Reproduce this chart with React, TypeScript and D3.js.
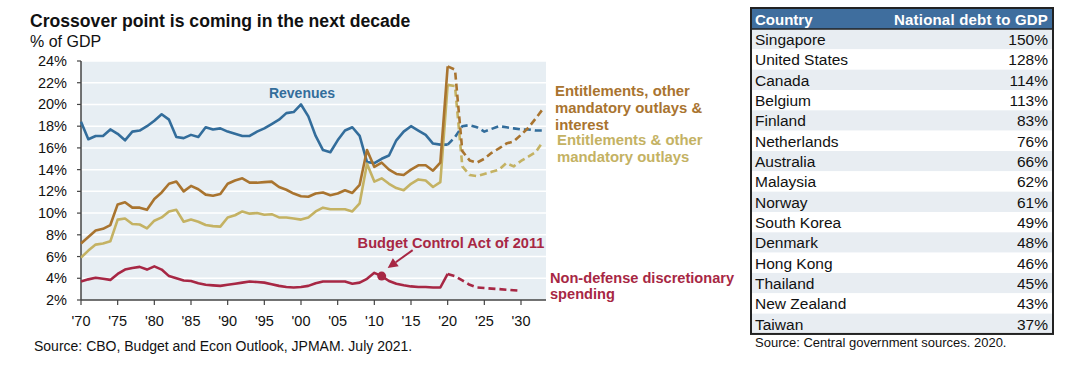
import React from "react";
import * as d3 from "d3";

// ---------- Data ----------
const histYears = d3.range(1970, 2021); // 1970..2020
const projYears = d3.range(2020, 2034); // 2020..2033
const projYearsRed = d3.range(2020, 2031); // 2020..2030

const revenuesHist = [
  18.4, 16.8, 17.1, 17.1, 17.7, 17.3, 16.7, 17.5, 17.6, 18.0,
  18.5, 19.1, 18.6, 17.0, 16.9, 17.2, 17.0, 17.9, 17.7, 17.8,
  17.5, 17.3, 17.1, 17.1, 17.5, 17.8, 18.2, 18.6, 19.2, 19.3,
  20.0, 18.9, 17.1, 15.8, 15.6, 16.7, 17.6, 17.9, 17.1, 14.7,
  14.6, 15.0, 15.3, 16.7, 17.5, 18.0, 17.6, 17.2, 16.4, 16.3,
  16.3,
];
const revenuesProj = [16.3, 17.0, 18.0, 18.1, 17.9, 17.5, 17.75, 18.0, 17.9, 17.8, 17.7, 17.7, 17.6, 17.6];

const mandInterestHist = [
  7.2, 7.8, 8.4, 8.55, 8.9, 10.8, 11.0, 10.5, 10.5, 10.3,
  11.3, 11.9, 12.7, 12.9, 12.0, 12.5, 12.2, 11.7, 11.6, 11.75,
  12.7, 13.0, 13.2, 12.8, 12.8, 12.85, 12.9, 12.4, 12.15, 11.8,
  11.55, 11.5, 11.8, 11.9, 11.65, 11.8, 12.1, 11.85, 12.6, 15.8,
  14.25, 14.65, 14.0, 13.6, 13.5, 14.0, 14.4, 14.4, 13.9, 14.65,
  23.5,
];
const mandInterestProj = [23.5, 23.2, 15.7, 14.85, 14.65, 15.0, 15.55, 15.95, 16.4, 16.6, 17.2, 17.85, 18.7, 19.6];

const mandHist = [
  5.9, 6.55, 7.1, 7.2, 7.4, 9.4, 9.5, 9.0, 8.95, 8.6,
  9.3, 9.6, 10.15, 10.3, 9.2, 9.4, 9.2, 8.9, 8.8, 8.75,
  9.6, 9.8, 10.15, 9.95, 10.0, 9.85, 9.9, 9.6, 9.6, 9.5,
  9.4, 9.6, 10.15, 10.5, 10.35, 10.35, 10.35, 10.15, 10.9, 14.55,
  12.9, 13.2, 12.7, 12.3, 12.1, 12.7, 13.1, 13.0, 12.4, 12.85,
  21.8,
];
const mandProj = [21.8, 21.7, 14.3, 13.5, 13.4, 13.6, 13.8, 14.0, 14.6, 14.3, 14.8, 15.2, 15.6, 16.6];

const nonDefHist = [
  3.7, 3.9, 4.05, 3.95, 3.85, 4.4, 4.8, 4.95, 5.05, 4.8,
  5.1, 4.8, 4.2, 4.0, 3.8, 3.75, 3.55, 3.4, 3.35, 3.3,
  3.4, 3.5, 3.6, 3.7, 3.65, 3.6, 3.45, 3.3, 3.2, 3.15,
  3.2, 3.3, 3.55, 3.7, 3.7, 3.7, 3.7, 3.5, 3.6, 3.95,
  4.5, 4.2, 3.75, 3.5, 3.35, 3.25, 3.2, 3.2, 3.15, 3.15,
  4.4,
];
const nonDefProj = [4.4, 4.2, 3.8, 3.4, 3.15, 3.1, 3.05, 3.0, 2.95, 2.9, 2.85];

const bcaYear = 2011;
const bcaValue = 4.2;

const yTicks = [2, 4, 6, 8, 10, 12, 14, 16, 18, 20, 22, 24];
const xTicks = [1970, 1975, 1980, 1985, 1990, 1995, 2000, 2005, 2010, 2015, 2020, 2025, 2030];
const xTickLabels = ["'70", "'75", "'80", "'85", "'90", "'95", "'00", "'05", "'10", "'15", "'20", "'25", "'30"];

const countries = [
  "Singapore", "United States", "Canada", "Belgium", "Finland", "Netherlands", "Australia",
  "Malaysia", "Norway", "South Korea", "Denmark", "Hong Kong", "Thailand", "New Zealand", "Taiwan",
];
const debtToGdp = [150, 128, 114, 113, 83, 76, 66, 62, 61, 49, 48, 46, 45, 43, 37];

// ---------- Styles ----------
const FONT = "'Liberation Sans', Arial, sans-serif";
const C_BLUE = "#336d9b";
const C_BROWN = "#a9742f";
const C_OLIVE = "#c4b263";
const C_RED = "#a72744";
const C_BG = "#e7eef3";

export default function App() {
  const x = d3.scaleLinear().domain([1970, 2030]).range([81, 521]);
  const y = d3.scaleLinear().domain([2, 24]).range([300, 61]);
  const plotLeft = 81;
  const plotRight = 546;

  const line = d3
    .line<[number, number]>()
    .x((d) => x(d[0]))
    .y((d) => y(d[1]));
  const zip = (yrs: number[], vals: number[]) => yrs.map((yr, i) => [yr, vals[i]] as [number, number]);

  const series = [
    { hist: revenuesHist, proj: revenuesProj, py: projYears, color: C_BLUE },
    { hist: mandHist, proj: mandProj, py: projYears, color: C_OLIVE },
    { hist: mandInterestHist, proj: mandInterestProj, py: projYears, color: C_BROWN },
    { hist: nonDefHist, proj: nonDefProj, py: projYearsRed, color: C_RED },
  ];

  // table geometry
  const tLeft = 751;
  const tRight = 1053;
  const tTop = 8;
  const headH = 21;
  const rowH = 20.33;

  const mx = x(bcaYear);
  const my = y(bcaValue);
  const tipX = mx + 6;
  const tipY = my - 8;
  const startX = mx + 31;
  const startY = my - 26;
  const ang = Math.atan2(tipY - startY, tipX - startX);
  const ahL = 10;
  const ahW = 5;
  const bx = tipX - ahL * Math.cos(ang);
  const by = tipY - ahL * Math.sin(ang);
  const arrowHead = `M${tipX},${tipY} L${bx + ahW * Math.sin(ang)},${by - ahW * Math.cos(ang)} L${bx - ahW * Math.sin(ang)},${by + ahW * Math.cos(ang)} Z`;

  return (
    <svg
      width={1088}
      height={378}
      style={{ position: "fixed", left: 0, top: 0, background: "#fff" }}
      fontFamily={FONT}
    >
      <rect x={0} y={0} width={1088} height={378} fill="#fff" />
      {/* Titles */}
      <text x={30} y={27} fontSize={17.6} fontWeight="bold" fill="#111">
        Crossover point is coming in the next decade
      </text>
      <text x={30} y={47} fontSize={16} fill="#111">
        % of GDP
      </text>

      {/* Plot background */}
      <rect x={plotLeft} y={y(24)} width={plotRight - plotLeft} height={y(2) - y(24)} fill={C_BG} />
      {yTicks.slice(1).map((t) => (
        <line key={t} x1={plotLeft} x2={plotRight} y1={y(t)} y2={y(t)} stroke="#fff" strokeWidth={1.5} />
      ))}

      {/* Axes */}
      <line x1={plotLeft} x2={plotLeft} y1={y(24)} y2={y(2)} stroke="#444" strokeWidth={1.5} />
      <line x1={plotLeft} x2={plotRight} y1={y(2)} y2={y(2)} stroke="#444" strokeWidth={1.5} />
      {yTicks.map((t) => (
        <g key={t}>
          <line x1={plotLeft - 4} x2={plotLeft} y1={y(t)} y2={y(t)} stroke="#444" strokeWidth={1.2} />
          <text x={67} y={y(t) + 5} fontSize={14.5} textAnchor="end" fill="#111">
            {t}%
          </text>
        </g>
      ))}
      {xTicks.map((t, i) => (
        <g key={t}>
          <line x1={x(t)} x2={x(t)} y1={y(2)} y2={y(2) + 5} stroke="#444" strokeWidth={1.2} />
          <text x={x(t)} y={326} fontSize={14.5} textAnchor="middle" fill="#111">
            {xTickLabels[i]}
          </text>
        </g>
      ))}

      {/* Series */}
      {series.map((s, i) => (
        <g key={i}>
          <path d={line(zip(histYears, s.hist)) || ""} fill="none" stroke={s.color} strokeWidth={2.6} strokeLinejoin="round" />
          <path
            d={line(zip(s.py, s.proj)) || ""}
            fill="none"
            stroke={s.color}
            strokeWidth={2.6}
            strokeDasharray="7,4"
            strokeLinejoin="round"
          />
        </g>
      ))}

      {/* BCA marker + annotation */}
      <circle cx={mx} cy={my} r={4.5} fill={C_RED} />
      <line x1={startX} y1={startY} x2={bx} y2={by} stroke={C_RED} strokeWidth={2} />
      <path d={arrowHead} fill={C_RED} />
      <text x={451} y={248} fontSize={14.6} fontWeight="bold" fill={C_RED} textAnchor="middle">
        Budget Control Act of 2011
      </text>

      {/* Series labels */}
      <text x={302} y={98} fontSize={14} fontWeight="bold" fill={C_BLUE} textAnchor="middle">
        Revenues
      </text>
      <text fontSize={14.9} fontWeight="bold" fill={C_BROWN}>
        <tspan x={555} y={96}>Entitlements, other</tspan>
        <tspan x={555} y={113}>mandatory outlays &amp;</tspan>
        <tspan x={555} y={130}>interest</tspan>
      </text>
      <text fontSize={14.9} fontWeight="bold" fill={C_OLIVE}>
        <tspan x={557} y={145}>Entitlements &amp; other</tspan>
        <tspan x={557} y={162}>mandatory outlays</tspan>
      </text>
      <text fontSize={14.6} fontWeight="bold" fill={C_RED}>
        <tspan x={550} y={283}>Non-defense discretionary</tspan>
        <tspan x={550} y={299}>spending</tspan>
      </text>

      <text x={34} y={351} fontSize={14} fill="#111">
        Source: CBO, Budget and Econ Outlook, JPMAM. July 2021.
      </text>

      {/* Table */}
      <rect x={tLeft} y={tTop} width={tRight - tLeft} height={headH} fill="#3f6e9e" />
      {countries.map((c, i) => {
        const ry = tTop + headH + i * rowH;
        return (
          <g key={c}>
            <rect x={tLeft} y={ry} width={tRight - tLeft} height={rowH} fill={i % 2 === 0 ? "#e8edf2" : "#fff"} />
            <text x={755} y={ry + 16} fontSize={15.5} fill="#111">
              {c}
            </text>
            <text x={1048} y={ry + 16} fontSize={15.5} fill="#111" textAnchor="end">
              {debtToGdp[i]}%
            </text>
          </g>
        );
      })}
      <text x={755} y={tTop + 16.5} fontSize={15} fontWeight="bold" fill="#fff">
        Country
      </text>
      <text x={1048} y={tTop + 16.5} fontSize={15} fontWeight="bold" fill="#fff" textAnchor="end" letterSpacing={0.2}>
        National debt to GDP
      </text>
      <line x1={tLeft} x2={tRight} y1={tTop + headH} y2={tTop + headH} stroke="#222" strokeWidth={1.5} />
      <rect
        x={tLeft}
        y={tTop}
        width={tRight - tLeft}
        height={headH + rowH * countries.length}
        fill="none"
        stroke="#222"
        strokeWidth={2}
      />
      <text x={755} y={347} fontSize={13} fill="#111">
        Source: Central government sources. 2020.
      </text>
    </svg>
  );
}
